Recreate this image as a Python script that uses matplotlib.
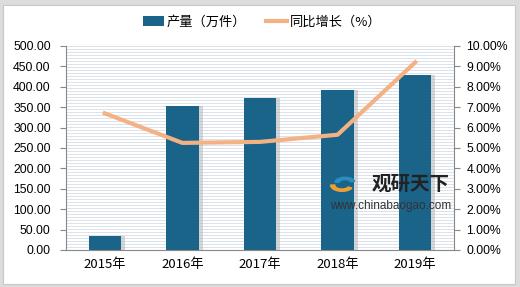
import matplotlib
matplotlib.use("Agg")
import matplotlib.pyplot as plt
import numpy as np
from matplotlib.patches import Rectangle, Wedge

plt.rcParams['font.family'] = ['Noto Sans CJK SC', 'DejaVu Sans']

years = ["2015年", "2016年", "2017年", "2018年", "2019年"]
output = [34, 352, 372, 391, 428]
growth = [6.7, 5.25, 5.3, 5.65, 9.2]

W, H = 520, 287
fig = plt.figure(figsize=(W/100, H/100), dpi=100)
fig.patch.set_facecolor('#dcdcdc')
fig.add_artist(Rectangle((3/W, 3/H), (W-8)/W, (H-8)/H, transform=fig.transFigure,
                         facecolor='white', edgecolor='#c8c8c8', lw=0.8, zorder=0))

ax = fig.add_axes([66/W, 1-250/H, (454-66)/W, 204/H])
ax.set_facecolor('white')
for y in np.arange(0, 500.1, 500/68):
    ax.axhline(y, color='#d5dde5', lw=0.6, zorder=0)

x = np.arange(len(years))
ax.bar(x+0.05, output, width=0.42, color='#b0b0b0', alpha=0.5, zorder=1)
bars = ax.bar(x, output, width=0.42, color='#1b6489', zorder=2)
ax.set_xlim(-0.5, 4.5)
ax.set_ylim(0, 500)
ax.set_yticks(np.arange(0, 501, 50))
ax.set_yticklabels([f"{v:.2f}" for v in np.arange(0, 501, 50)], fontsize=8.8, family='Liberation Sans')
ax.set_xticks(x)
ax.set_xticklabels(years, fontsize=9.5)
ax.tick_params(axis='y', length=4, color='#888888', pad=7)
ax.tick_params(axis='x', length=0, pad=6)
for s in ['top', 'right']:
    ax.spines[s].set_visible(False)
ax.spines['left'].set_color('#888888')
ax.spines['bottom'].set_color('#888888')

ax2 = ax.twinx()
line, = ax2.plot(x, growth, color='#f4b183', lw=3, zorder=3)
ax2.set_ylim(0, 10)
ax2.set_yticks(np.arange(0, 10.1, 1))
ax2.set_yticklabels([f"{v:.2f}%" for v in np.arange(0, 10.1, 1)], fontsize=8.8, family='Liberation Sans')
ax2.tick_params(axis='y', length=4, color='#888888', pad=5)
for s in ['top', 'left', 'bottom']:
    ax2.spines[s].set_visible(False)
ax2.spines['right'].set_color('#888888')

# watermark
fig.add_artist(Wedge((342/W, 1-185/H), 0.022, 180, 330, width=0.008, color='#f0a030',
                     transform=fig.transFigure, zorder=10))
fig.add_artist(Wedge((345/W, 1-183/H), 0.02, 20, 170, width=0.008, color='#2a8fc0',
                     transform=fig.transFigure, zorder=10))
fig.text(411/W, 1-184/H, '观研天下', fontsize=14, fontweight='bold', color='#222222', ha='center', va='center', zorder=10)
fig.text(391/W, 1-206/H, 'www.chinabaogao.com', fontsize=8.5, color='#333333', ha='center', va='center', family='Liberation Sans', zorder=10)

leg = fig.legend(handles=[bars, line], labels=['产量（万件）', '同比增长（%）'], loc='center',
                 bbox_to_anchor=(262/W, 1-22/H), ncol=2, frameon=True, fontsize=9.5,
                 handlelength=1.6, handletextpad=0.2, columnspacing=1.5, borderpad=0.6,
                 edgecolor='white', fancybox=False)
leg.get_frame().set_linewidth(0)

fig.savefig('out.png', dpi=100, facecolor=fig.get_facecolor())
